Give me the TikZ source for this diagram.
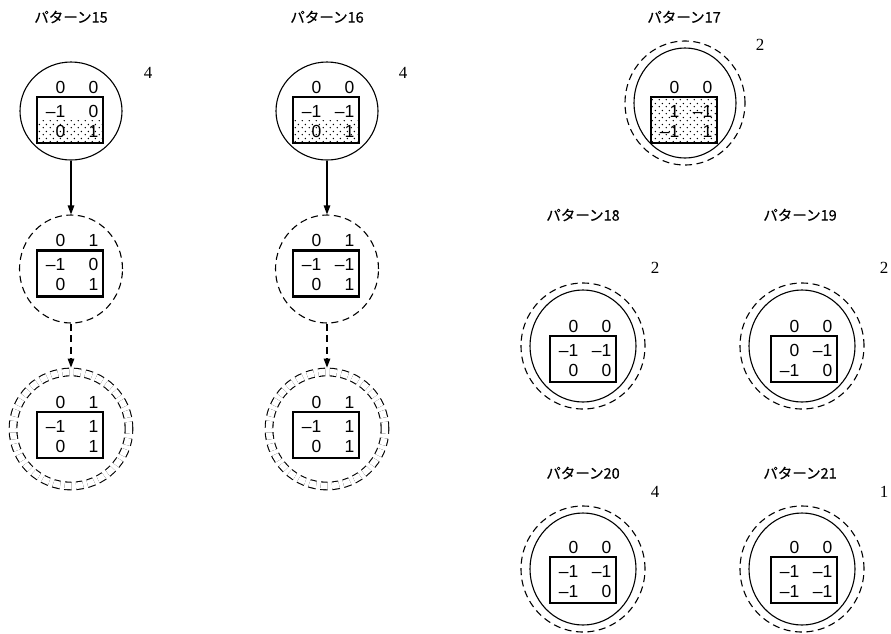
\documentclass[tikz,border=0pt]{standalone}
\usepackage{fontspec}
\setmainfont{Liberation Serif}
\newfontfamily\numfont{Liberation Sans}
\newfontfamily\jpfont[FakeBold=0.5]{Noto Sans CJK JP}
\usetikzlibrary{arrows.meta,calc,shapes.geometric,patterns}

% sparse staggered dots for the shaded cells
\pgfdeclarepatternformonly{sparsedots}{\pgfqpoint{0pt}{0pt}}{\pgfqpoint{7pt}{7pt}}{\pgfqpoint{7pt}{7pt}}{%
  \pgfpathcircle{\pgfqpoint{1.5pt}{1.5pt}}{0.85pt}%
  \pgfpathcircle{\pgfqpoint{5pt}{5pt}}{0.85pt}%
  \pgfusepath{fill}}

\tikzset{
  ring/.style={ellipse,draw,line width=1.1pt,inner sep=0pt},
  dashring/.style={ring,dash pattern=on 7pt off 4.5pt},
  twinring/.style={dashring,double,double distance=6.5pt,outer sep=4.4pt},
  gridbox/.style={draw,line width=2.4pt,minimum width=66pt,minimum height=46pt,inner sep=0pt},
  lowdots/.style={path picture={\fill[pattern=sparsedots] (path picture bounding box.west) rectangle (path picture bounding box.south east);}},
  alldots/.style={pattern=sparsedots},
  num/.style={font=\numfont\fontsize{17.5}{18}\selectfont,anchor=east,inner sep=0pt},
  count/.style={font=\fontsize{17}{18}\selectfont,inner sep=0pt},
  title/.style={font=\jpfont\fontsize{14.5}{15}\selectfont,inner sep=0pt},
  flow/.style={-{Triangle[length=9pt,width=6.5pt]},line width=1.2pt},
}

% box of one state: name, centre, fill style, header pair, two rows
\newcommand\tilebox[9]{%
  \node[gridbox,#3] (#1) at (#2) {};
  \node[num] (#1h1) at ($(#1.center)+(-4.5,-33)$) {#4};
  \node[num] (#1h2) at ($(#1.center)+(28.5,-33)$) {#5};
  \node[num] (#1a1) at ($(#1.center)+(-4.5,-9)$) {#6};
  \node[num] (#1a2) at ($(#1.center)+(28.5,-9)$) {#7};
  \node[num] (#1b1) at ($(#1.center)+(-4.5,11)$) {#8};
  \node[num] (#1b2) at ($(#1.center)+(28.5,11)$) {#9};
}

\begin{document}
\begin{tikzpicture}[x=1pt,y=-1pt]
\useasboundingbox (0,0) rectangle (891,633);

% --- パターン15 ---
\node[title] (t15) at (71,17) {パターン15};
\node[ring,minimum width=102pt,minimum height=98pt] (p15a) at (71,111) {};
\node[dashring,minimum width=103pt,minimum height=108pt] (p15b) at (71,269) {};
\node[twinring,minimum width=116pt,minimum height=114pt] (p15c) at (71,429) {};
\tilebox{g15a}{70,120}{lowdots}{0}{0}{–1}{0}{0}{1}
\tilebox{g15b}{70,273.5}{}{0}{1}{–1}{0}{0}{1}
\tilebox{g15c}{70,435}{}{0}{1}{–1}{1}{0}{1}
\node[count] (n15) at (148,73) {4};
\draw[flow] (p15a.south) -- (p15b.north);
\draw[flow,dash pattern=on 7pt off 4.5pt] (p15b.south) -- (p15c.north);

% --- パターン16 ---
\node[title] (t16) at (327,17) {パターン16};
\node[ring,minimum width=102pt,minimum height=98pt] (p16a) at (327,111) {};
\node[dashring,minimum width=103pt,minimum height=108pt] (p16b) at (327,269) {};
\node[twinring,minimum width=116pt,minimum height=114pt] (p16c) at (327,429) {};
\tilebox{g16a}{326,120}{lowdots}{0}{0}{–1}{–1}{0}{1}
\tilebox{g16b}{326,273.5}{}{0}{1}{–1}{–1}{0}{1}
\tilebox{g16c}{326,435}{}{0}{1}{–1}{1}{0}{1}
\node[count] (n16) at (403,73) {4};
\draw[flow] (p16a.south) -- (p16b.north);
\draw[flow,dash pattern=on 7pt off 4.5pt] (p16b.south) -- (p16c.north);

% --- パターン17 ---
\node[title] (t17) at (684,17) {パターン17};
\node[dashring,minimum width=120pt,minimum height=124pt] (p17o) at (685,103) {};
\node[ring,minimum width=102pt,minimum height=110pt] (p17) at (685,103) {};
\tilebox{g17}{684,120}{alldots}{0}{0}{1}{–1}{–1}{1}
\node[count] (n17) at (760,45) {2};

% --- パターン18 / 19 ---
\node[title] (t18) at (583,215) {パターン18};
\node[dashring,minimum width=124pt,minimum height=126pt] (p18o) at (583,346) {};
\node[ring,minimum width=106pt,minimum height=112pt] (p18) at (583,346) {};
\tilebox{g18}{583,359}{}{0}{0}{–1}{–1}{0}{0}
\node[count] (n18) at (655,268) {2};

\node[title] (t19) at (800,215) {パターン19};
\node[dashring,minimum width=124pt,minimum height=126pt] (p19o) at (802,346) {};
\node[ring,minimum width=106pt,minimum height=112pt] (p19) at (802,346) {};
\tilebox{g19}{804,359}{}{0}{0}{0}{–1}{–1}{0}
\node[count] (n19) at (884,268) {2};

% --- パターン20 / 21 ---
\node[title] (t20) at (583,473) {パターン20};
\node[dashring,minimum width=124pt,minimum height=126pt] (p20o) at (583,569) {};
\node[ring,minimum width=106pt,minimum height=112pt] (p20) at (583,569) {};
\tilebox{g20}{583,580}{}{0}{0}{–1}{–1}{–1}{0}
\node[count] (n20) at (655,492) {4};

\node[title] (t21) at (800,473) {パターン21};
\node[dashring,minimum width=124pt,minimum height=126pt] (p21o) at (802,569) {};
\node[ring,minimum width=106pt,minimum height=112pt] (p21) at (802,569) {};
\tilebox{g21}{804,580}{}{0}{0}{–1}{–1}{–1}{–1}
\node[count] (n21) at (884,492) {1};
\end{tikzpicture}
\end{document}
